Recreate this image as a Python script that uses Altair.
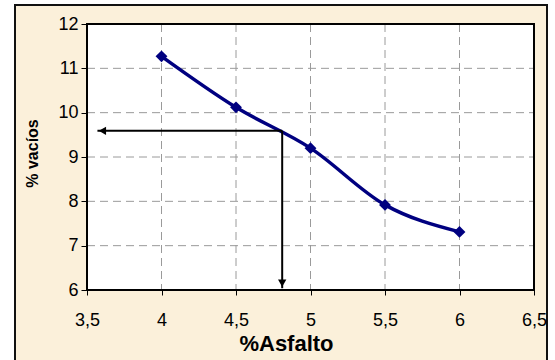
import altair as alt
import pandas as pd

# Data
asfalto = [4.0, 4.5, 5.0, 5.5, 6.0]
vacios = [11.27, 10.12, 9.20, 7.92, 7.31]

opt_asfalto = 4.81
opt_vacios = 9.59
x_min, x_max = 3.5, 6.5
y_min, y_max = 6.0, 12.0
arrow_tip_x = 3.57
arrow_tip_y = 6.04

x_ticks = [3.5, 4.0, 4.5, 5.0, 5.5, 6.0, 6.5]
y_ticks = [6, 7, 8, 9, 10, 11, 12]

df = pd.DataFrame({"asfalto": asfalto, "vacios": vacios})
h_arrow = pd.DataFrame({"x": [opt_asfalto], "x2": [arrow_tip_x], "y": [opt_vacios]})
v_arrow = pd.DataFrame({"x": [opt_asfalto], "y": [opt_vacios], "y2": [arrow_tip_y]})
h_head = pd.DataFrame({"x": [arrow_tip_x], "y": [opt_vacios]})
v_head = pd.DataFrame({"x": [opt_asfalto], "y": [arrow_tip_y]})
xgrid = pd.DataFrame({"x": x_ticks})
ygrid = pd.DataFrame({"y": y_ticks})

FONT = "Liberation Sans"
W, H = 447, 266
PL, PT = 87, 24

xscale = alt.Scale(domain=[x_min, x_max], nice=False, zero=False)
yscale = alt.Scale(domain=[y_min, y_max], nice=False, zero=False)

xaxis = alt.Axis(
    values=x_ticks,
    labelExpr="replace(toString(datum.value), '.', ',')",
    title="%Asfalto",
    titleFontWeight="bold",
    titleFontSize=22,
    titleFont=FONT,
    titleColor="#000000",
    titleX=199,
    titleY=60,
    titleAlign="center",
    titleBaseline="alphabetic",
    labelFont=FONT,
    labelFontSize=18,
    labelColor="#000000",
    labelPadding=16,
    tickSize=5,
    tickColor="#000000",
    domain=False,
    grid=False,
    labelFlush=False,
    zindex=1,
)
yaxis = alt.Axis(
    values=y_ticks,
    title="% vacíos",
    titleFontWeight="bold",
    titleFontSize=16,
    titleFont=FONT,
    titleColor="#000000",
    titleAngle=-90,
    titleX=-55,
    titleY=129,
    titleAlign="center",
    titleBaseline="middle",
    labelFont=FONT,
    labelFontSize=18,
    labelColor="#000000",
    labelPadding=3,
    tickSize=6,
    tickColor="#000000",
    domain=False,
    grid=False,
    labelFlush=False,
    zindex=1,
)

one = pd.DataFrame({"a": [0]})
frame = alt.Chart(one).mark_rect(
    fill="#FBF0DA", stroke="#111111", strokeWidth=2
).encode(
    x=alt.value(15 - PL), x2=alt.value(547 - PL),
    y=alt.value(5 - PT), y2=alt.value(380 - PT),
)

plotbg = alt.Chart(one).mark_rect(fill="white").encode(
    x=alt.value(0), x2=alt.value(W), y=alt.value(0), y2=alt.value(H)
)

gx = alt.Chart(xgrid).mark_rule(color="#9a9a9a", strokeWidth=1, strokeDash=[8, 5]).encode(
    x=alt.X("x:Q", scale=xscale, axis=xaxis), y=alt.value(0), y2=alt.value(H)
)
gy = alt.Chart(ygrid).mark_rule(color="#9a9a9a", strokeWidth=1, strokeDash=[8, 5]).encode(
    y=alt.Y("y:Q", scale=yscale, axis=yaxis), x=alt.value(0), x2=alt.value(W)
)

base = alt.Chart(df)
line = base.mark_line(color="#000080", strokeWidth=3.5, interpolate="monotone").encode(
    x=alt.X("asfalto:Q", scale=xscale),
    y=alt.Y("vacios:Q", scale=yscale),
)
pts = base.mark_point(shape="diamond", filled=True, color="#000080", size=140, opacity=1).encode(
    x=alt.X("asfalto:Q", scale=xscale),
    y=alt.Y("vacios:Q", scale=yscale),
)

hrule = alt.Chart(h_arrow).mark_rule(color="black", strokeWidth=2).encode(
    x=alt.X("x:Q", scale=xscale), x2="x2:Q", y=alt.Y("y:Q", scale=yscale)
)
vrule = alt.Chart(v_arrow).mark_rule(color="black", strokeWidth=2).encode(
    x=alt.X("x:Q", scale=xscale), y=alt.Y("y:Q", scale=yscale), y2="y2:Q"
)
hhead = alt.Chart(h_head).mark_point(
    shape="triangle-left", filled=True, color="black", size=70, opacity=1, xOffset=5
).encode(x=alt.X("x:Q", scale=xscale), y=alt.Y("y:Q", scale=yscale))
vhead = alt.Chart(v_head).mark_point(
    shape="triangle-down", filled=True, color="black", size=70, opacity=1, yOffset=-5
).encode(x=alt.X("x:Q", scale=xscale), y=alt.Y("y:Q", scale=yscale))

border = alt.Chart(one).mark_rect(
    fill=None, stroke="black", strokeWidth=2
).encode(x=alt.value(0), x2=alt.value(W), y=alt.value(0), y2=alt.value(H))

chart = alt.layer(
    frame, plotbg, gx, gy, line, pts, hrule, vrule, hhead, vhead, border
).properties(
    width=W, height=H,
    autosize=alt.AutoSizeParams(type="none"),
    padding={"left": PL, "top": PT, "right": 555 - PL - W, "bottom": 360 - PT - H},
    background="white",
).configure_view(stroke=None)

chart.save("out.html", embed_options={"renderer": "svg", "actions": False})
